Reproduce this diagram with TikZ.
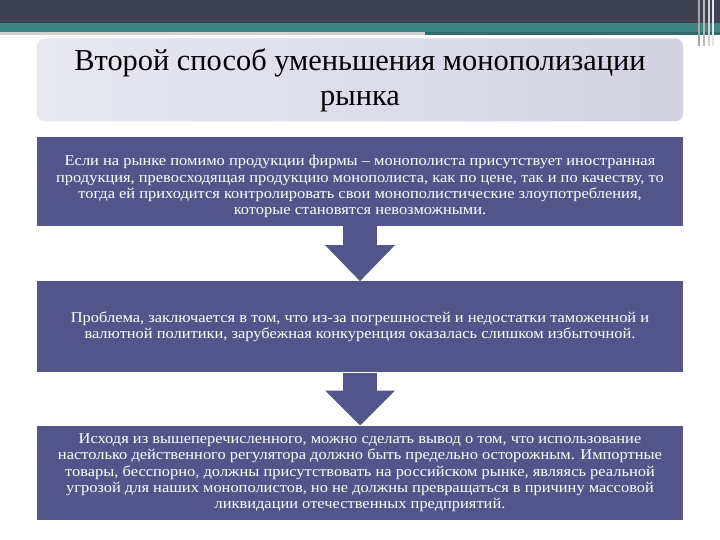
\documentclass[tikz,border=0pt]{standalone}
\usepackage{fontspec}
\setmainfont{Liberation Serif}
\newfontfamily\boxfont[FakeStretch=1.1]{Liberation Serif}
\usetikzlibrary{positioning}
\definecolor{slatebar}{HTML}{3E4252}
\definecolor{tealbar}{HTML}{3F8484}
\definecolor{boxblue}{HTML}{53558A}
\definecolor{titlel}{HTML}{E8E8F1}
\definecolor{titler}{HTML}{D2D2E3}

\begin{document}
\begin{tikzpicture}[
    x=1bp, y=-1bp,
    node distance=55bp,
    titlebox/.style={rounded corners=8bp, left color=titlel, right color=titler, minimum width=646bp, minimum height=83bp, align=center, font=\fontsize{30.5}{35}\selectfont},
    textbox/.style={fill=boxblue, text=white, minimum width=646bp, align=center, inner sep=0pt, font=\boxfont\fontsize{15}{16.5}\selectfont}
]
\useasboundingbox[fill=white] (0,0) rectangle (720,540);

% top band
\fill[slatebar] (0,0) rectangle (720,23);
\fill[tealbar] (0,23) rectangle (720,32);
\fill[tealbar!80!black] (425,32) rectangle (720,35);
\fill[gray!35] (0,32) rectangle (425,35);
\foreach \x/\c in {698/gray!70, 703/gray!55, 708/gray!35, 712/gray!20}
    \fill[\c] (\x,0) rectangle (\x+2,46);

\node[titlebox] (title) at (360,80) {Второй способ уменьшения монополизации\\рынка};

\node[textbox, minimum height=89bp, below=15bp of title] (first) {\rule{0pt}{21bp}Если на рынке помимо продукции фирмы – монополиста присутствует иностранная\\продукция, превосходящая продукцию монополиста, как по цене, так и по качеству, то\\тогда ей приходится контролировать свои монополистические злоупотребления,\\которые становятся невозможными.};
\node[textbox, minimum height=91bp, below=of first] (second) {Проблема, заключается в том, что из-за погрешностей и недостатки таможенной и\\валютной политики, зарубежная конкуренция оказалась слишком избыточной.};
\node[textbox, minimum height=94bp, below=53bp of second] (third) {Исходя из вышеперечисленного, можно сделать вывод о том, что использование\\настолько действенного регулятора должно быть предельно осторожным. Импортные\\товары, бесспорно, должны присутствовать на российском рынке, являясь реальной\\угрозой для наших монополистов, но не должны превращаться в причину массовой\\ликвидации отечественных предприятий.};

% block arrows
\fill[boxblue] ([xshift=-17bp]first.south) rectangle ([xshift=17bp,yshift=36bp]second.north);
\fill[boxblue] (second.north) -- ++(-35,-36) -- ++(70,0) -- cycle;
\fill[boxblue] ([xshift=-17bp]second.south) rectangle ([xshift=17bp,yshift=35bp]third.north);
\fill[boxblue] (third.north) -- ++(-35,-35) -- ++(70,0) -- cycle;
\end{tikzpicture}
\end{document}
